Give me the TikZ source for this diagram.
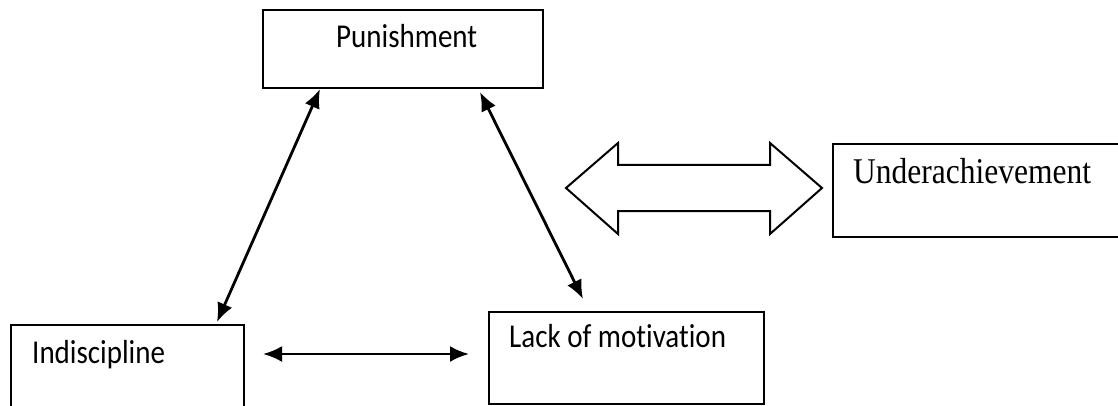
\documentclass[tikz,border=0pt]{standalone}
\usepackage{fontspec}
\setmainfont{Carlito}[Ligatures=NoCommon]
\newfontfamily\serifface{Liberation Serif}
\usetikzlibrary{arrows.meta}
\tikzset{
  box/.style={draw=black, line width=2pt, rectangle, inner sep=0pt, anchor=north west},
  lbl/.style={anchor=base west, inner sep=0pt, font=\fontsize{29}{34}\selectfont},
  slbl/.style={anchor=base west, inner sep=0pt, font=\serifface\fontsize{31.5}{36}\selectfont},
  link/.style={line width=2.8pt, {Latex[length=19pt,width=16pt]}-{Latex[length=19pt,width=16pt]}},
  fat/.style={draw=black, line width=2pt, fill=white, line join=miter}
}
\begin{document}
\begin{tikzpicture}[x=1pt,y=-1pt]
\useasboundingbox (0,0) rectangle (1118,406);
\clip (0,0) rectangle (1118,406);
% boxes
\node[box, minimum width=280pt, minimum height=78pt] (pun) at (262,9) {};
\node[box, minimum width=233pt, minimum height=120pt] (ind) at (10,324) {};
\node[box, minimum width=275pt, minimum height=92pt] (lack) at (488,311) {};
\node[box, minimum width=320pt, minimum height=93pt] (under) at (832,143) {};
% texts
\node[lbl] (tpun) at (336,48) {\scalebox{1}[1.15]{Punishment}};
\node[lbl] (tind) at (32,363) {\scalebox{1}[1.15]{Indiscipline}};
\node[lbl] (tlack) at (509,347) {\scalebox{1}[1.15]{Lack of motivation}};
\node[slbl] (tunder) at (853,183) {\scalebox{1}[1.15]{Underachievement}};
% connector endpoints
\coordinate (a1) at (320,89);
\coordinate (a2) at (217,322);
\coordinate (b1) at (263,354);
\coordinate (b2) at (469,354);
\coordinate (c1) at (480,92);
\coordinate (c2) at (583,299);
\draw[link] (a1) -- (a2);
\draw[link] (b1) -- (b2);
\draw[link] (c1) -- (c2);
% block double arrow
\draw[fat] (566,188) -- (618,143) -- (618,165) -- (770,165) -- (770,143) -- (822,188)
  -- (770,234) -- (770,211) -- (618,211) -- (618,234) -- cycle;
\end{tikzpicture}
\end{document}
